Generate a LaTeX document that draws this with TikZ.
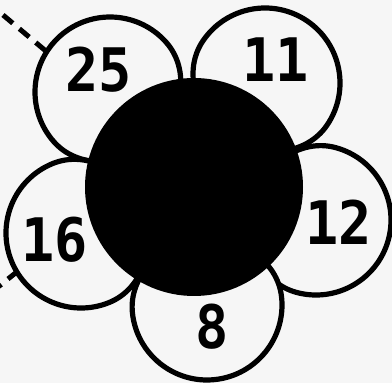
\documentclass[tikz,border=0pt]{standalone}
\usepackage{fontspec}
\newfontfamily\numfont{DejaVu Sans Mono}
\definecolor{bg}{RGB}{246,246,246}
\begin{document}
\begin{tikzpicture}[x=1pt,y=1pt,
  petal/.style={draw=black, line width=5.2pt, fill=bg},
  petalpic/.pic={\draw[petal] (0,-75) arc[start angle=-90,end angle=90,radius=75]
      arc[start angle=90,end angle=270,x radius=65,y radius=75] -- cycle;},
  num/.style={font=\numfont\bfseries\fontsize{60}{60}\selectfont, inner sep=0pt, xscale=0.92},
  dashline/.style={line width=5pt, dash pattern=on 12.8pt off 8.6pt}]
\fill[bg] (0,0) rectangle (392,383);
\useasboundingbox (0,0) rectangle (392,383);
\clip (0,0) rectangle (392,383);
% dashed guide lines
\coordinate (dt1) at (3,368);
\coordinate (dt2) at (47,331);
\coordinate (db1) at (18,112);
\coordinate (db2) at (-12,88);
\draw[dashline] (dt1) -- (dt2);
\draw[dashline] (db1) -- (db2);
% petals
\pic[rotate=131.5] at (110,291) {petalpic};
\pic[rotate=55.7] at (265,300) {petalpic};
\pic[rotate=-15.1] at (316,163) {petalpic};
\pic[rotate=-83.7] at (207,78) {petalpic};
\pic[rotate=202.2] at (81,150) {petalpic};
% centre
\node[circle, fill=black, minimum size=218pt, inner sep=0pt] (core) at (194,196) {};
% numbers
\node[num] (n25) at (99,313) {25};
\node[num] (n11) at (276,323) {11};
\node[num] (n12) at (339,161) {12};
\node[num] (n16) at (55,143) {16};
\node[num] (n8) at (212,56) {8};
\end{tikzpicture}
\end{document}
